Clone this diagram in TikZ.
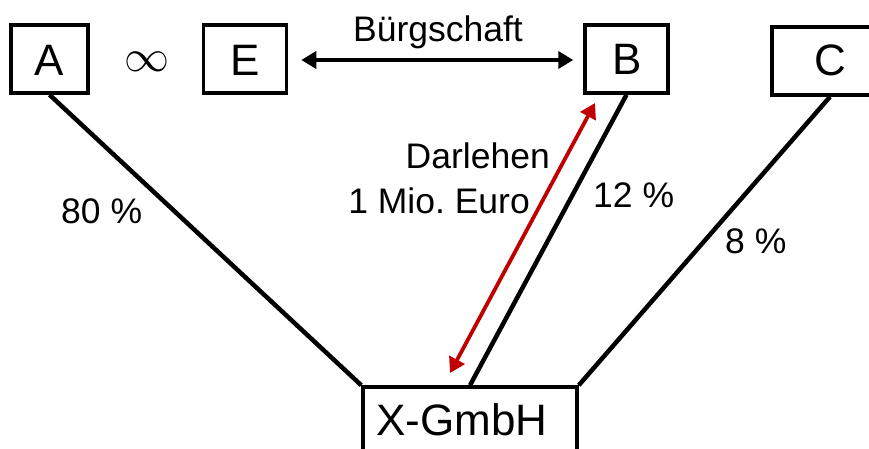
\documentclass[tikz,border=0pt]{standalone}
\usepackage{fontspec}
\setmainfont{Liberation Sans}
\usetikzlibrary{arrows.meta}
\definecolor{darkred}{HTML}{C00000}
\frenchspacing
\begin{document}
\begin{tikzpicture}[x=1pt,y=-1pt,
  box/.style={draw,line width=3.5pt,inner sep=0pt,minimum height=68pt},
  big/.style={font=\fontsize{44}{48}\selectfont},
  lbl/.style={font=\fontsize{35.5}{40}\selectfont,inner sep=0pt},
  conn/.style={line width=4.5pt},
  arr/.style={line width=4pt,{Triangle[length=15pt,width=17pt]}-{Triangle[length=15pt,width=17pt]}}]
\useasboundingbox (0,0) rectangle (869,449);
\clip (0,0) rectangle (869,449);
\node[box,minimum width=77pt] (A) at (49.5,59) {};
\node[box,minimum width=83pt] (E) at (245,59) {};
\node[box,minimum width=83pt] (B) at (626.5,59) {};
\node[box,minimum width=116pt] (C) at (830,61) {};
\node[box,minimum width=214pt,minimum height=100pt] (X) at (470,437) {};
\node[big,inner sep=0pt,anchor=base] (tA) at (49.5,76) {A};
\node[big,inner sep=0pt,anchor=base] (tE) at (245,76) {E};
\node[big,inner sep=0pt,anchor=base] (tB) at (627,75) {B};
\node[big,inner sep=0pt,anchor=base] (tC) at (830,76) {C};
\node[big,inner sep=0pt,anchor=base] (tX) at (462,435) {X-GmbH};
\node[inner sep=0pt] (inf) at (147,62) {\resizebox{45pt}{!}{$\infty$}};
\draw[conn] (A.south) -- (X.north west);
\draw[conn] (B.south) -- (X.north);
\draw[conn] (C.south) -- (X.north east);
\draw[arr] ([xshift=13pt,yshift=-1pt]E.east) -- ([xshift=-10pt,yshift=-1pt]B.west);
\coordinate (r1) at (450,373);
\coordinate (r2) at (595,103);
\draw[arr,darkred,line width=3.8pt] (r1) -- (r2);
\node[lbl,anchor=base] (bg) at (438,42) {Bürgschaft};
\node[lbl,anchor=base east] (d1) at (550,168) {Darlehen};
\node[lbl,anchor=base east] (d2) at (530,213) {1 Mio. Euro};
\node[lbl,anchor=base west] (p12) at (593,207) {12 \%};
\node[lbl,anchor=base west] (p80) at (61,223) {80 \%};
\node[lbl,anchor=base west] (p8) at (725,253) {8 \%};
\end{tikzpicture}
\end{document}
